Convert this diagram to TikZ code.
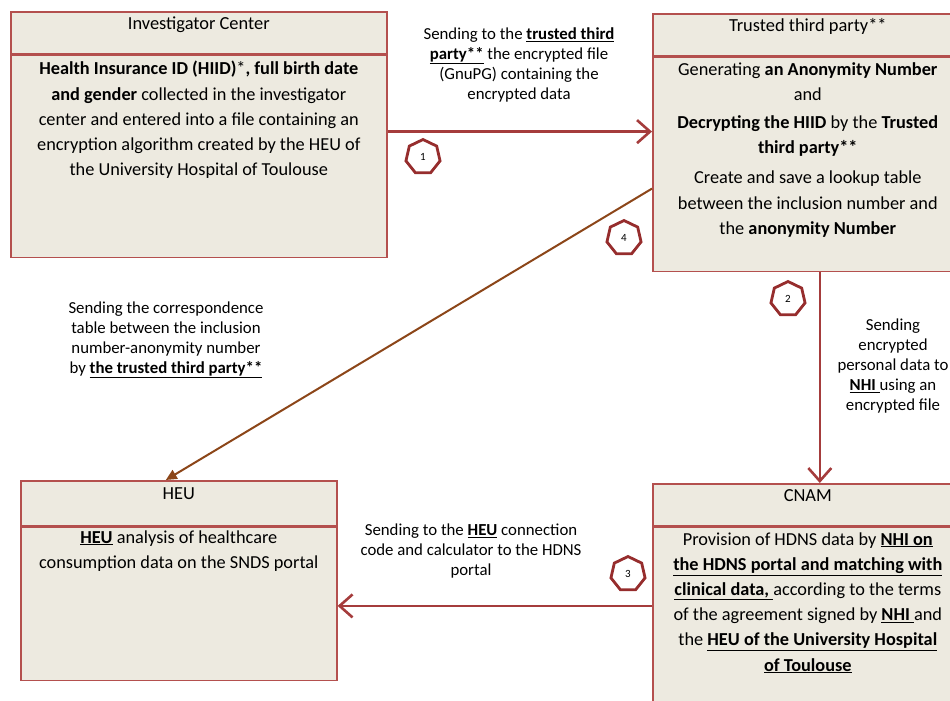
\documentclass[tikz,border=0pt]{standalone}
\usepackage{fontspec}
\setmainfont{Carlito}
\usetikzlibrary{arrows.meta, positioning, calc, shapes.geometric}
\definecolor{boxfill}{RGB}{237,234,224}
\definecolor{boxline}{RGB}{180,80,78}
\definecolor{arrowred}{RGB}{165,60,60}
\definecolor{arrowbrown}{RGB}{140,70,25}
\definecolor{stepred}{RGB}{150,45,45}

\begin{document}
\begin{tikzpicture}[x=1pt, y=-1pt,
  headbox/.style = {draw=boxline, fill=boxfill, line width=1.6pt, inner xsep=0pt, inner ysep=0pt, text height=17.5pt, text depth=24.5pt, font=\fontsize{18.4}{22}\selectfont},
  bodybox/.style = {draw=boxline, fill=boxfill, line width=1.6pt, inner sep=0pt},
  bodytext/.style = {align=center, inner sep=0pt, font=\fontsize{18.3}{25.2}\selectfont},
  sendtext/.style = {align=center, inner sep=0pt, font=\fontsize{16.8}{20}\selectfont},
  stepmark/.style = {regular polygon, regular polygon sides=7, draw=stepred, line width=2.8pt, fill=white, minimum size=35pt, inner sep=0pt, font=\fontsize{11}{12}\selectfont},
  arrow/.style = {-{Straight Barb[length=13pt, width=23pt]}, draw=arrowred, line width=2.6pt},
  backarrow/.style = {-{Triangle[length=11pt, width=10pt]}, draw=arrowbrown, line width=2pt}
]
\useasboundingbox (0,0) rectangle (950,701);

\node[headbox, minimum width=376pt, anchor=north west] (invhead) at (10,11) {Investigator Center};
\node[bodybox, minimum width=376pt, minimum height=202pt, below=0pt of invhead] (inv) {};
\node[bodytext, below=6.5pt of invhead.south] (invtext) {\textbf{Health Insurance ID (HIID)}*\textbf{, full birth date}\\\textbf{and gender} collected in the investigator\\center and entered into a file containing an\\encryption algorithm created by the HEU of\\the University Hospital of Toulouse};

\node[headbox, minimum width=310pt, anchor=north west] (trustedhead) at (652,13) {Trusted third party**};
\node[bodybox, minimum width=310pt, minimum height=214pt, below=0pt of trustedhead] (trusted) {};
\node[bodytext, below=5.5pt of trustedhead.south] (trustedtext) {Generating \textbf{an Anonymity Number}\\and\\[3pt]\textbf{Decrypting the HIID} by the \textbf{Trusted}\\\textbf{third party**}\\[5pt]Create and save a lookup table\\between the inclusion number and\\the \textbf{anonymity Number}};

\node[headbox, minimum width=316pt, text height=18.4pt, text depth=26.6pt, anchor=north west] (heuhead) at (20,480) {HEU};
\node[bodybox, minimum width=316pt, minimum height=153pt, below=0pt of heuhead] (heu) {};
\node[bodytext, below=3.5pt of heuhead.south] (heutext) {\underline{\textbf{HEU}} analysis of healthcare\\consumption data on the SNDS portal};

\node[headbox, minimum width=310pt, anchor=north west] (cnamhead) at (652,483) {CNAM};
\node[bodybox, minimum width=310pt, minimum height=195pt, below=0pt of cnamhead] (cnam) {};
\node[bodytext, below=5.5pt of cnamhead.south] (cnamtext) {Provision of HDNS data by \underline{\textbf{NHI on}}\\\underline{\textbf{the HDNS portal and matching with}}\\\underline{\textbf{clinical data, }}according to the terms\\of the agreement signed by \underline{\textbf{NHI }}and\\the \underline{\textbf{HEU of the University Hospital}}\\\underline{\textbf{of Toulouse}}};

\node[sendtext] (send1) at (519,65) {Sending to the \underline{\textbf{trusted third}}\\\underline{\textbf{party**}} the encrypted file\\(GnuPG) containing the\\encrypted data};
\node[sendtext] (send2) at (893,366) {Sending\\encrypted\\personal data to\\\underline{\textbf{NHI }}using an\\encrypted file};
\node[sendtext] (send3) at (471,551) {Sending to the \underline{\textbf{HEU}} connection\\code and calculator to the HDNS\\portal};
\node[sendtext] (send4) at (166,340) {Sending the correspondence\\table between the inclusion\\number-anonymity number\\by \underline{\textbf{the trusted third party**}}};

\draw[arrow] ([yshift=-77pt]inv.north east) -- ([yshift=-77pt]inv.north east -| trusted.west);
\draw[arrow] ([xshift=12pt]trusted.south) -- ([xshift=12pt]trusted.south |- cnamhead.north);
\draw[arrow] ([yshift=19pt]cnam.west) -- ([yshift=19pt]cnam.west -| heu.east);
\draw[backarrow] ([yshift=-132pt]trusted.north west) -- ([xshift=-13pt]heuhead.north);

\node[stepmark] (step1) at (423,157) {1};
\node[stepmark] (step2) at (788,299) {2};
\node[stepmark] (step3) at (628,574) {3};
\node[stepmark] (step4) at (624,238) {4};
\end{tikzpicture}
\end{document}
